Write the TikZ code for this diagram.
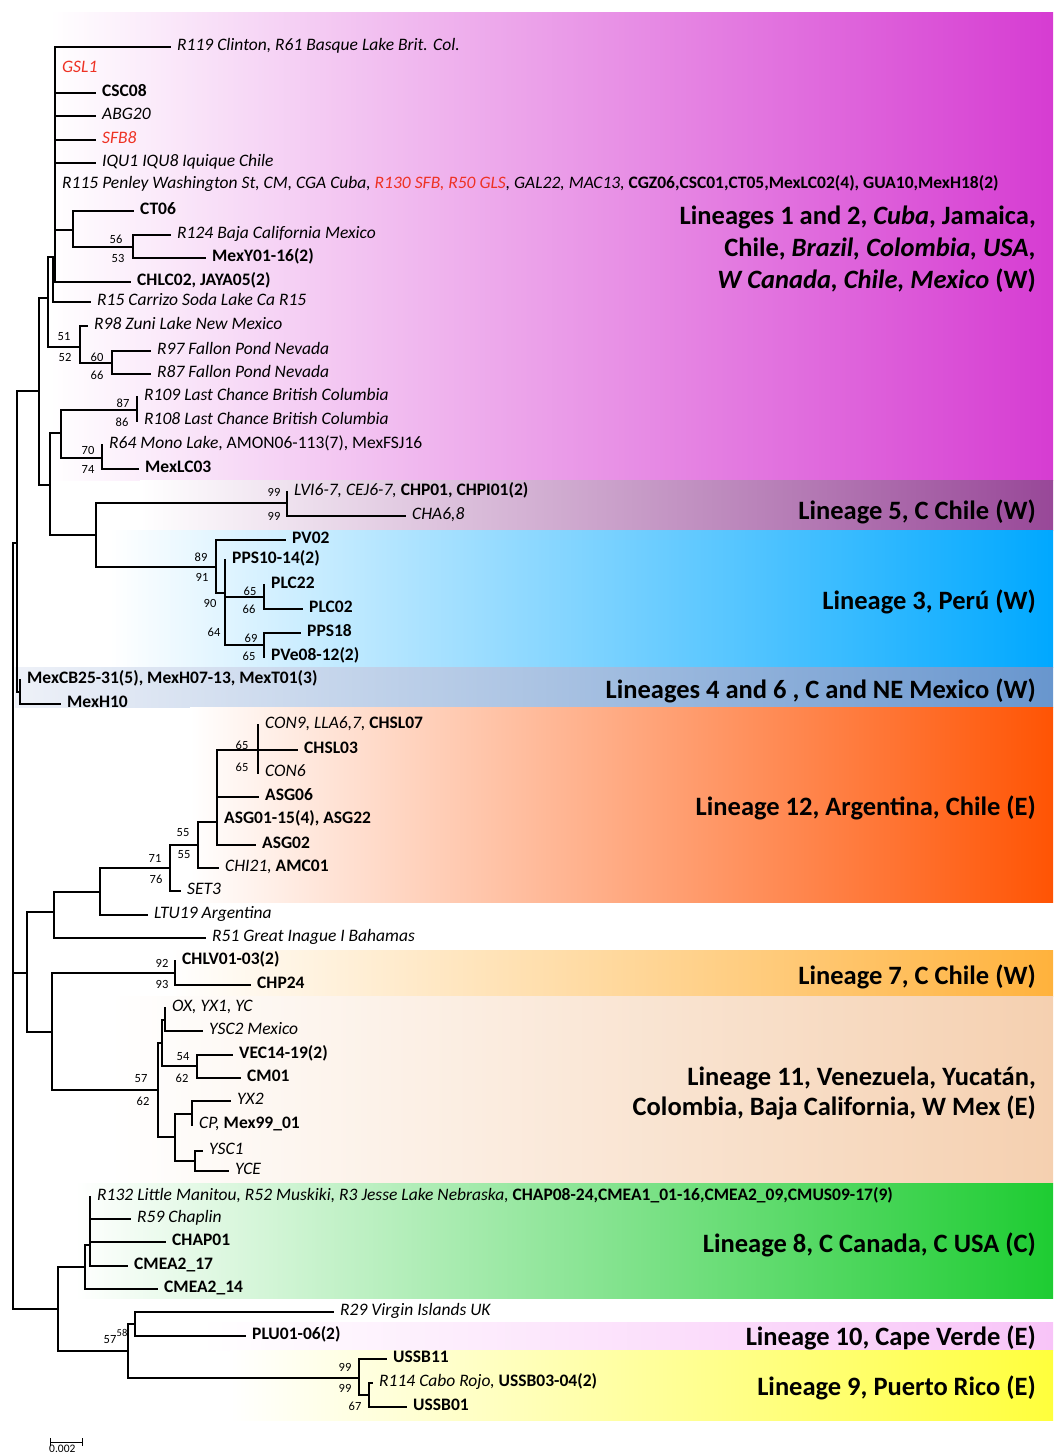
\documentclass[tikz,border=0pt]{standalone}
\usepackage{fontspec}
\setmainfont{Carlito}
\definecolor{lred}{RGB}{238,50,36}
\definecolor{cA}{RGB}{214,60,210}
\definecolor{cB}{RGB}{152,72,152}
\definecolor{cC}{RGB}{0,168,255}
\definecolor{cD}{RGB}{104,150,206}
\definecolor{cDl}{RGB}{238,241,248}
\definecolor{cE}{RGB}{255,84,4}
\definecolor{cF}{RGB}{255,178,60}
\definecolor{cG}{RGB}{245,208,176}
\definecolor{cH}{RGB}{30,204,50}
\definecolor{cI}{RGB}{248,196,248}
\definecolor{cJ}{RGB}{255,255,60}
\newcommand\kids[2]{\foreach \k in {#2} {\draw[br] (#1) |- (\k);}}
\begin{document}
\begin{tikzpicture}[x=1pt,y=-1pt,
  br/.style={line width=1.5pt, line cap=rect},
  lf/.style={anchor=west, inner xsep=7pt, inner ysep=0pt, text height=9pt, text depth=2.3pt, font=\fontsize{17.5}{20}\selectfont},
  sl/.style={inner sep=0pt, font=\fontsize{12.5}{14}\selectfont},
  lin/.style={anchor=east, align=right, inner sep=0pt, font=\fontsize{26.5}{32}\selectfont\bfseries}]
\useasboundingbox (0,0) rectangle (1055,1456);
% bands
\shade[left color=white, right color=cA] (50,12) rectangle (1053,480);
\shade[left color=white, right color=cB] (140,480) rectangle (1053,530);
\shade[left color=white, right color=cC] (110,530) rectangle (1053,667);
\shade[left color=cDl, right color=cD] (15,667) rectangle (1053,707);
\shade[left color=white, right color=cE] (190,707) rectangle (1053,902);
\shade[left color=white, right color=cF] (170,950) rectangle (1053,996);
\shade[left color=white, right color=cG] (110,996) rectangle (1053,1183);
\shade[left color=white, right color=cH] (75,1183) rectangle (1053,1298);
\shade[left color=white, right color=cI] (200,1322) rectangle (1053,1350);
\shade[left color=white, right color=cJ] (230,1350) rectangle (1053,1420);

% internal nodes
\coordinate (Root) at (13,926);
\coordinate (Y) at (17,543);
\coordinate (L46) at (20,692);
\coordinate (X39) at (39,391);
\coordinate (X48) at (48,298);
\coordinate (Q) at (53,257);
\coordinate (P1) at (55,257);
\coordinate (CTn) at (73,230);
\coordinate (N56) at (133,247);
\coordinate (N51) at (80,347);
\coordinate (N60) at (112,363);
\coordinate (X50) at (50,485);
\coordinate (N61) at (61,433);
\coordinate (N87) at (137,410);
\coordinate (N70) at (102,458);
\coordinate (L53) at (96,535);
\coordinate (N99) at (287,503);
\coordinate (N89) at (216,567);
\coordinate (N90) at (225,593);
\coordinate (PLCn) at (264,597);
\coordinate (PPSn) at (264,645);
\coordinate (X27) at (27,973);
\coordinate (X54) at (54,912);
\coordinate (X100) at (100,892);
\coordinate (N71) at (170,868);
\coordinate (N55) at (198,845);
\coordinate (N217) at (217,822);
\coordinate (N65) at (258,750);
\coordinate (X52) at (52,1032);
\coordinate (N92) at (175,973);
\coordinate (N57) at (158,1090);
\coordinate (T162) at (162,1043);
\coordinate (N165) at (165,1020);
\coordinate (N54) at (197,1066);
\coordinate (B175) at (175,1137);
\coordinate (N192) at (192,1114);
\coordinate (N195) at (195,1161);
\coordinate (L8G) at (58,1309);
\coordinate (N85) at (85,1267);
\coordinate (N90b) at (90,1245);
\coordinate (N128) at (128,1351);
\coordinate (N135) at (135,1324);
\coordinate (N359) at (359,1378);
\coordinate (N369) at (369,1395);

% leaves
\node[lf] (R119) at (170,47) {\itshape R119 Clinton, R61 Basque Lake Brit. Col.};
\node[lf] (GSL1) at (55,69) {\itshape\color{lred}GSL1};
\node[lf] (CSC08) at (95,93) {\bfseries CSC08};
\node[lf] (ABG20) at (95,116) {\itshape ABG20};
\node[lf] (SFB8) at (95,140) {\itshape\color{lred}SFB8};
\node[lf] (IQU1) at (95,163) {\itshape IQU1 IQU8 Iquique Chile};
\node[lf] (R115) at (55,185) {{\itshape R115 Penley Washington St, CM, CGA Cuba, {\color{lred}R130 SFB, R50 GLS}, GAL22, MAC13,} {\bfseries CGZ06,CSC01,CT05,MexLC02(4), GUA10,MexH18(2)}};
\node[lf] (CT06) at (133,211) {\bfseries CT06};
\node[lf] (R124) at (170,235) {\itshape R124 Baja California Mexico};
\node[lf] (MexY01) at (205,258) {\bfseries MexY01-16(2)};
\node[lf] (CHLC02) at (130,282) {\bfseries CHLC02, JAYA05(2)};
\node[lf] (R15) at (90,302) {\itshape R15 Carrizo Soda Lake Ca R15};
\node[lf] (R98) at (87,326) {\itshape R98 Zuni Lake New Mexico};
\node[lf] (R97) at (150,351) {\itshape R97 Fallon Pond Nevada};
\node[lf] (R87) at (150,374) {\itshape R87 Fallon Pond Nevada};
\node[lf] (R109) at (137,397) {\itshape R109 Last Chance British Columbia};
\node[lf] (R108) at (137,421) {\itshape R108 Last Chance British Columbia};
\node[lf] (R64) at (102,445) {{\itshape R64 Mono Lake}, AMON06-113(7), MexFSJ16};
\node[lf] (MexLC03) at (138,469) {\bfseries MexLC03};
\node[lf] (LVI) at (287,492) {{\itshape LVI6-7, CEJ6-7,} {\bfseries CHP01, CHPI01(2)}};
\node[lf] (CHA) at (405,516) {\itshape CHA6,8};
\node[lf] (PV02) at (285,540) {\bfseries PV02};
\node[lf] (PPS10) at (225,560) {\bfseries PPS10-14(2)};
\node[lf] (PLC22) at (264,585) {\bfseries PLC22};
\node[lf] (PLC02) at (302,609) {\bfseries PLC02};
\node[lf] (PPS18) at (300,633) {\bfseries PPS18};
\node[lf] (PVe08) at (264,657) {\bfseries PVe08-12(2)};
\node[lf] (MexCB) at (20,680) {\bfseries MexCB25-31(5), MexH07-13, MexT01(3)};
\node[lf] (MexH10) at (60,704) {\bfseries MexH10};
\node[lf] (CON9) at (258,725) {{\itshape CON9, LLA6,7,} {\bfseries CHSL07}};
\node[lf] (CHSL03) at (297,750) {\bfseries CHSL03};
\node[lf] (CON6) at (258,773) {\itshape CON6};
\node[lf] (ASG06) at (258,797) {\bfseries ASG06};
\node[lf] (ASG01) at (217,820) {\bfseries ASG01-15(4), ASG22};
\node[lf] (ASG02) at (255,845) {\bfseries ASG02};
\node[lf] (CHI21) at (218,868) {{\itshape CHI21,} {\bfseries AMC01}};
\node[lf] (SET3) at (180,891) {\itshape SET3};
\node[lf] (LTU19) at (147,915) {\itshape LTU19 Argentina};
\node[lf] (R51) at (205,938) {\itshape R51 Great Inague I Bahamas};
\node[lf] (CHLV01) at (175,961) {\bfseries CHLV01-03(2)};
\node[lf] (CHP24) at (250,985) {\bfseries CHP24};
\node[lf] (OX) at (165,1008) {\itshape OX, YX1, YC};
\node[lf] (YSC2) at (202,1031) {\itshape YSC2 Mexico};
\node[lf] (VEC14) at (232,1055) {\bfseries VEC14-19(2)};
\node[lf] (CM01) at (240,1078) {\bfseries CM01};
\node[lf] (YX2) at (230,1101) {\itshape YX2};
\node[lf] (CP) at (192,1125) {{\itshape CP,} {\bfseries Mex99\_01}};
\node[lf] (YSC1) at (202,1151) {\itshape YSC1};
\node[lf] (YCE) at (228,1171) {\itshape YCE};
\node[lf] (R132) at (90,1197) {{\itshape R132 Little Manitou, R52 Muskiki, R3 Jesse Lake Nebraska,} {\bfseries CHAP08-24,CMEA1\_01-16,CMEA2\_09,CMUS09-17(9)}};
\node[lf] (R59) at (130,1219) {\itshape R59 Chaplin};
\node[lf] (CHAP01) at (165,1242) {\bfseries CHAP01};
\node[lf] (CMEA17) at (127,1266) {\bfseries CMEA2\_17};
\node[lf] (CMEA14) at (157,1289) {\bfseries CMEA2\_14};
\node[lf] (R29) at (333,1312) {\itshape R29 Virgin Islands UK};
\node[lf] (PLU01) at (245,1336) {\bfseries PLU01-06(2)};
\node[lf] (USSB11) at (386,1359) {\bfseries USSB11};
\node[lf] (R114) at (372,1383) {{\itshape R114 Cabo Rojo,} {\bfseries USSB03-04(2)}};
\node[lf] (USSB01) at (406,1407) {\bfseries USSB01};

% branches
\kids{Root}{Y,X27,L8G}
\kids{Y}{X39,L46}
\kids{L46}{MexCB,MexH10}
\kids{X39}{X48,X50}
\kids{X48}{Q,N51}
\kids{Q}{P1,R15}
\kids{P1}{R119,GSL1,CSC08,ABG20,SFB8,IQU1,R115,CTn,CHLC02}
\kids{CTn}{CT06,N56}
\kids{N56}{R124,MexY01}
\kids{N51}{R98,N60}
\kids{N60}{R97,R87}
\kids{X50}{N61,L53}
\kids{N61}{N87,N70}
\kids{N87}{R109,R108}
\kids{N70}{R64,MexLC03}
\kids{L53}{N99,N89}
\kids{N99}{LVI,CHA}
\kids{N89}{PV02,N90}
\kids{N90}{PPS10,PLCn,PPSn}
\kids{PLCn}{PLC22,PLC02}
\kids{PPSn}{PPS18,PVe08}
\kids{X27}{X54,X52}
\kids{X54}{X100,R51}
\kids{X100}{N71,LTU19}
\kids{N71}{N55,SET3}
\kids{N55}{N217,CHI21}
\kids{N217}{N65,ASG06,ASG01,ASG02}
\kids{N65}{CON9,CHSL03,CON6}
\kids{X52}{N92,N57}
\kids{N92}{CHLV01,CHP24}
\kids{N57}{T162,B175}
\kids{T162}{N165,N54}
\kids{N165}{OX,YSC2}
\kids{N54}{VEC14,CM01}
\kids{B175}{N192,N195}
\kids{N192}{YX2,CP}
\kids{N195}{YSC1,YCE}
\kids{L8G}{N85,N128}
\kids{N85}{N90b,CMEA14}
\kids{N90b}{R132,R59,CHAP01,CMEA17}
\kids{N128}{N135,N359}
\kids{N135}{R29,PLU01}
\kids{N359}{USSB11,N369}
\kids{N369}{R114,USSB01}

% support values
\node[sl] (s1) at (116,239) {56};
\node[sl] (s2) at (118,258) {53};
\node[sl] (s3) at (64,337) {51};
\node[sl] (s4) at (65,357) {52};
\node[sl] (s5) at (97,357) {60};
\node[sl] (s6) at (97,375) {66};
\node[sl] (s7) at (123,403) {87};
\node[sl] (s8) at (122,422) {86};
\node[sl] (s9) at (88,450) {70};
\node[sl] (s10) at (88,469) {74};
\node[sl] (s11) at (274,492) {99};
\node[sl] (s12) at (274,516) {99};
\node[sl] (s13) at (201,557) {89};
\node[sl] (s14) at (202,577) {91};
\node[sl] (s15) at (210,603) {90};
\node[sl] (s16) at (214,632) {64};
\node[sl] (s17) at (250,591) {65};
\node[sl] (s18) at (249,609) {66};
\node[sl] (s19) at (251,638) {69};
\node[sl] (s20) at (249,656) {65};
\node[sl] (s21) at (242,745) {65};
\node[sl] (s22) at (242,767) {65};
\node[sl] (s23) at (183,833) {55};
\node[sl] (s24) at (184,855) {55};
\node[sl] (s25) at (155,858) {71};
\node[sl] (s26) at (156,879) {76};
\node[sl] (s27) at (162,963) {92};
\node[sl] (s28) at (162,984) {93};
\node[sl] (s29) at (183,1057) {54};
\node[sl] (s30) at (182,1078) {62};
\node[sl] (s31) at (141,1079) {57};
\node[sl] (s32) at (143,1101) {62};
\node[sl] (s33) at (110,1340) {57};
\node[sl, font=\fontsize{10.5}{12}\selectfont] (s34) at (122,1333) {58};
\node[sl] (s35) at (345,1367) {99};
\node[sl] (s36) at (345,1388) {99};
\node[sl] (s37) at (355,1406) {67};

% lineage labels
\node[lin] (Lg12) at (1036,249) {Lineages 1 and 2, \textit{Cuba}, Jamaica,\\ Chile, \textit{Brazil, Colombia, USA,}\\ \textit{W Canada, Chile, Mexico} (W)};
\node[lin] (Lg5) at (1036,512) {Lineage 5, C Chile (W)};
\node[lin] (Lg3) at (1036,602) {Lineage 3, Perú (W)};
\node[lin] (Lg46) at (1036,691) {Lineages 4 and 6 , C and NE Mexico (W)};
\node[lin] (Lg12b) at (1036,808) {Lineage 12, Argentina, Chile (E)};
\node[lin] (Lg7) at (1036,977) {Lineage 7, C Chile (W)};
\node[lin, font=\fontsize{26.5}{30}\selectfont\bfseries] (Lg11) at (1036,1093) {Lineage 11, Venezuela, Yucatán,\\ Colombia, Baja California, W Mex (E)};
\node[lin] (Lg8) at (1036,1245) {Lineage 8, C Canada, C USA (C)};
\node[lin] (Lg10) at (1036,1338) {Lineage 10, Cape Verde (E)};
\node[lin] (Lg9) at (1036,1388) {Lineage 9, Puerto Rico (E)};

% scale bar
\coordinate (sbA) at (50,1442);
\coordinate (sbB) at (82,1442);
\draw[line width=0.9pt] (sbA) -- (sbB);
\draw[line width=0.9pt] ([yshift=-4]sbA) -- ([yshift=4]sbA);
\draw[line width=0.9pt] ([yshift=-4]sbB) -- ([yshift=4]sbB);
\node[inner sep=0pt, anchor=north west, font=\fontsize{11.5}{13}\selectfont] (sbL) at (49,1445) {0.002};
\end{tikzpicture}
\end{document}
